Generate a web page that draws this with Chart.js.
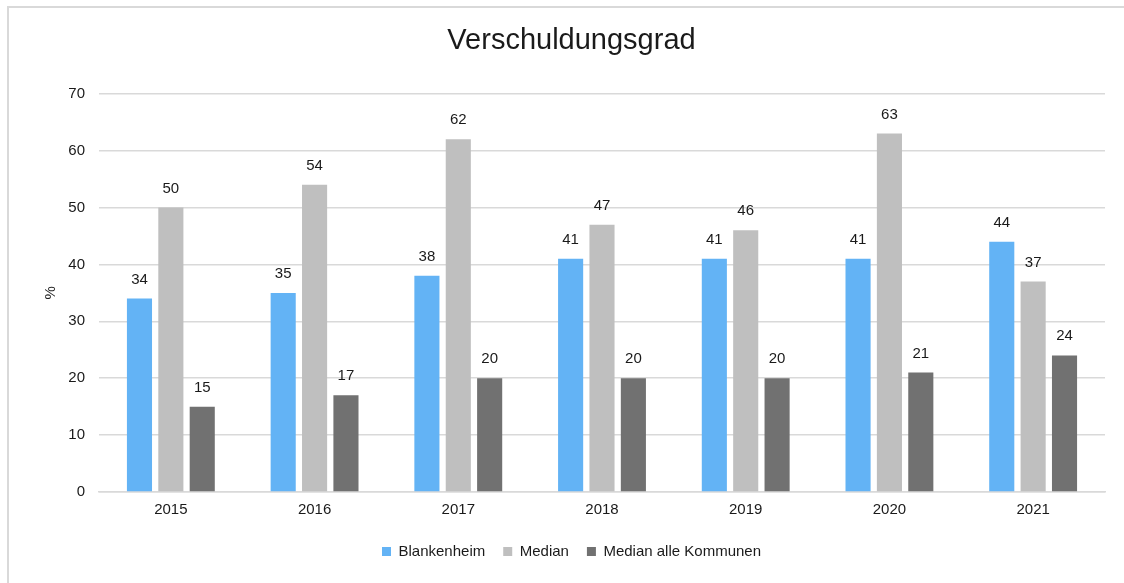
<!DOCTYPE html>
<html>
<head>
<meta charset="utf-8">
<script src="https://cdn.jsdelivr.net/npm/chart.js@4"></script>
<style>
    html, body { margin: 0; padding: 0; background: #fff; overflow: hidden; }
    #frame {
        position: absolute; left: 7px; top: 6px;
        width: 1300px; height: 800px;
        border: 2px solid #d9d9d9;
    }
    #wrap { position: absolute; left: 0; top: 0; width: 1124px; height: 583px; }
</style>
</head>
<body>
<div id="frame"></div>
<div id="wrap"><canvas id="chart"></canvas></div>
<script>
// Chart data
const years = ['2015', '2016', '2017', '2018', '2019', '2020', '2021'];
const blankenheim = [34, 35, 38, 41, 41, 41, 44];
const median = [50, 54, 62, 47, 46, 63, 37];
const medianAlle = [15, 17, 20, 20, 20, 21, 24];

const FONT = '"Liberation Sans", Arial, sans-serif';
const TEXT = '#1a1a1a';

/**
 * Draw the value above each bar
 */
const valueLabels = {
    id: 'valueLabels',
    afterDatasetsDraw(chart) {
        const ctx = chart.ctx;
        ctx.save();
        ctx.font = '15px ' + FONT;
        ctx.fillStyle = TEXT;
        ctx.textAlign = 'center';
        ctx.textBaseline = 'alphabetic';
        chart.data.datasets.forEach((ds, i) => {
            chart.getDatasetMeta(i).data.forEach((bar, j) => {
                ctx.fillText(ds.data[j], bar.x, bar.y - 15);
            });
        });
        ctx.restore();
    }
};

new Chart(document.getElementById('chart'), {
    type: 'bar',
    data: {
        labels: years,
        datasets: [
            { label: 'Blankenheim', data: blankenheim, backgroundColor: '#63b3f5' },
            { label: 'Median', data: median, backgroundColor: '#bfbfbf' },
            { label: 'Median alle Kommunen', data: medianAlle, backgroundColor: '#717171' }
        ]
    },
    options: {
        responsive: true,
        maintainAspectRatio: false,
        animation: false,
        datasets: {
            bar: { categoryPercentage: 0.655, barPercentage: 0.8 }
        },
        layout: { padding: { left: 38, right: 19, top: 0, bottom: 14 } },
        plugins: {
            title: {
                display: true,
                text: 'Verschuldungsgrad',
                color: TEXT,
                font: { family: FONT, size: 29, weight: 'normal' },
                padding: { top: 24, bottom: 35 }
            },
            legend: {
                position: 'bottom',
                labels: {
                    boxWidth: 9,
                    boxHeight: 9,
                    padding: 18,
                    color: TEXT,
                    font: { family: FONT, size: 15 }
                }
            },
            tooltip: { enabled: false }
        },
        scales: {
            x: {
                grid: { display: false },
                border: { color: '#d9d9d9', width: 1.5 },
                ticks: { color: TEXT, padding: 1, font: { family: FONT, size: 15 } },
                afterFit(scale) { scale.height = 34; }
            },
            y: {
                min: 0,
                max: 70,
                ticks: { stepSize: 10, color: TEXT, padding: 14, font: { family: FONT, size: 15 } },
                grid: { color: '#d9d9d9', lineWidth: 1.5, drawTicks: false },
                border: { display: false },
                title: {
                    display: true,
                    text: '%',
                    color: TEXT,
                    font: { family: FONT, size: 15 },
                    padding: 4
                },
                afterFit(scale) { scale.width = 61; }
            }
        }
    },
    plugins: [valueLabels]
});
</script>
</body>
</html>
